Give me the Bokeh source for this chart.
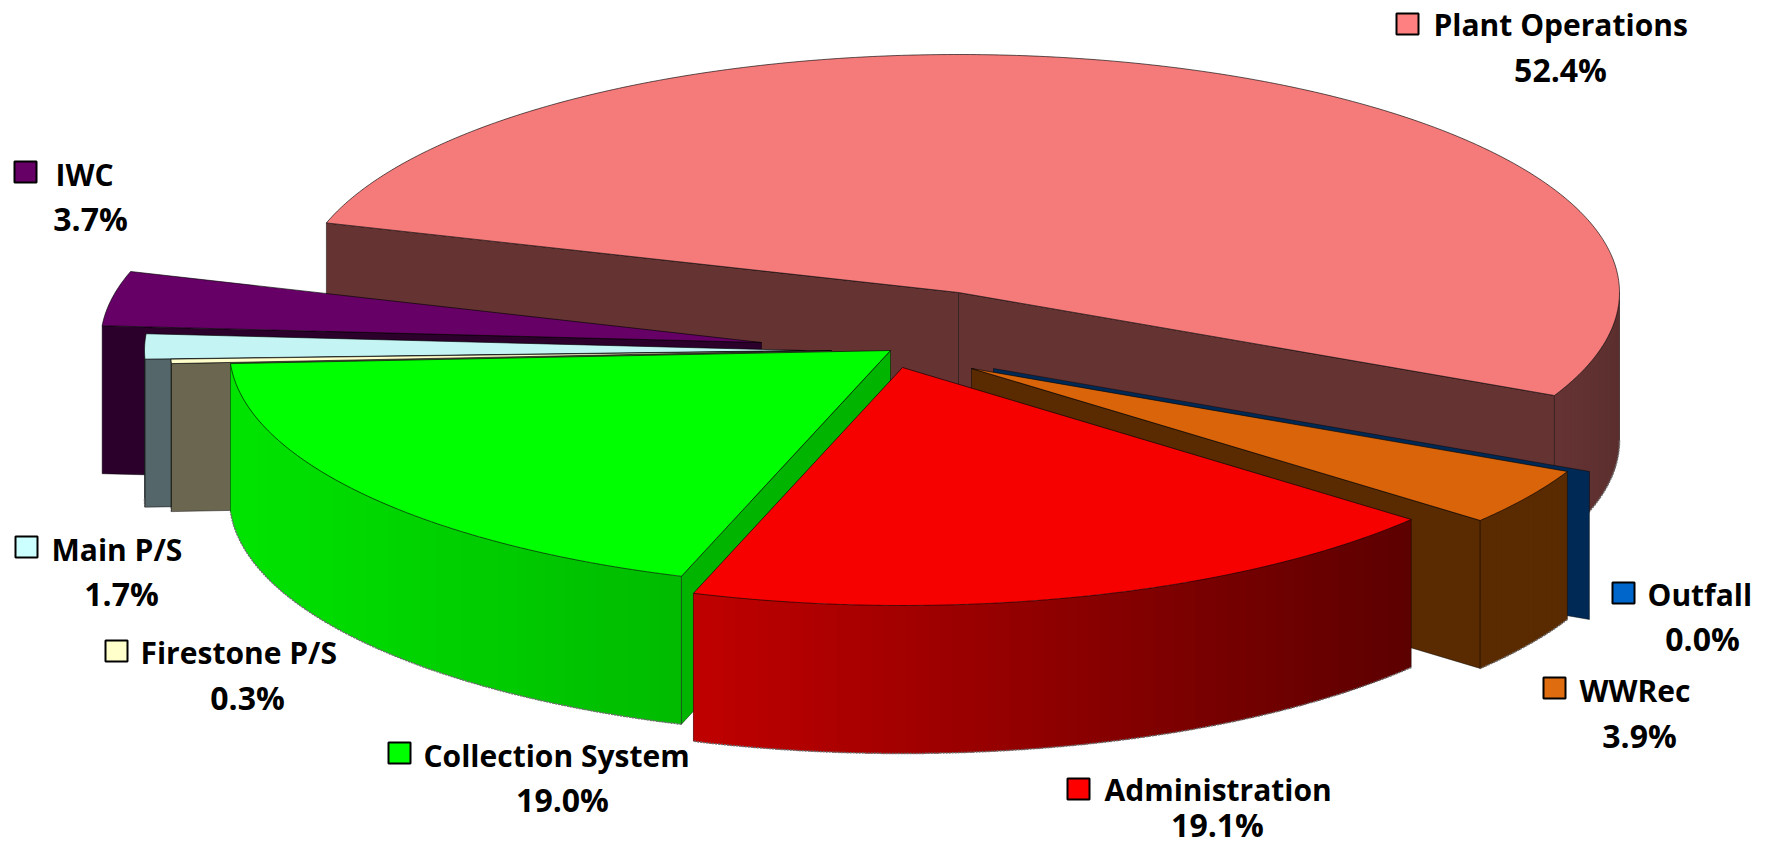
import numpy as np
from bokeh.core.properties import value
from bokeh.embed import file_html
from bokeh.models import Range1d
from bokeh.plotting import figure
from bokeh.resources import INLINE

# Expense shares, clockwise around the pie
categories = ["Plant Operations", "Outfall", "WWRec", "Administration",
              "Collection System", "Firestone P/S", "Main P/S", "IWC"]
shares = [52.4, 0.0, 3.9, 19.1, 19.0, 0.3, 1.7, 3.7]

# Face colours
top_colors = ["#f57b7b", "#002a55", "#d9640a", "#f60000",
              "#00ff00", "#ffffcc", "#c4f4f4", "#660066"]
side_colors = ["#663333", "#002a55", "#5a2a00", "#8a0000",
               "#00b400", "#6b6650", "#55666a", "#2b002b"]
rim_left = ["#663333", "#002a55", "#5a2a00", "#c00000",
            "#00e400", "#6b6650", "#55666a", "#2b002b"]
rim_right = ["#5c2f2f", "#002a55", "#5a2a00", "#5c0000",
             "#00ba00", "#6b6650", "#55666a", "#2b002b"]
swatch_colors = ["#ff8080", "#0066cc", "#e06c10", "#ff0000",
                 "#00ff00", "#ffffcc", "#ccffff", "#660066"]

# Where each exploded slice's tip sits
tip_x = [958, 993, 971, 902, 890, 831, 805, 761]
tip_y = [292, 368, 368, 367, 350, 350, 350, 342]

# Pie projection
RX, RY, DEPTH = 661, 238, 148
START_ANGLE = 163.0

# Back-to-front painting order
paint_order = [0, 7, 6, 5, 1, 2, 4, 3]

# Label layout: swatch left/top, name left/mid-line, percent centre/mid-line
swatch_x = [1396, 1612, 1543, 1067, 388, 105, 15, 14]
swatch_y = [13, 582, 677, 778, 742, 640, 536, 161]
name_x = [1433, 1647, 1579, 1104, 423, 140, 51, 55]
name_y = [24, 594, 690, 789, 755, 652, 549, 174]
pct_x = [1560, 1702, 1639, 1217, 562, 247, 121, 90]
pct_y = [69, 638, 735, 824, 799, 697, 593, 218]
FONT = "Open Sans"
NAME_SIZE = "30px"
PCT_SIZE = "32px"


def rgb(hex_color):
    return np.array([int(hex_color[i:i + 2], 16) for i in (1, 3, 5)], float)


def blend(c0, c1, t):
    m = rgb(c0) * (1 - t) + rgb(c1) * t
    return "#%02x%02x%02x" % tuple(int(round(v)) for v in m)


def rim(cx, cy, a0, a1, step=0.5):
    n = max(2, int(abs(a1 - a0) / step) + 1)
    ang = np.radians(np.linspace(a0, a1, n))
    return cx + RX * np.cos(ang), cy - RY * np.sin(ang)


p = figure(width=1776, height=848, output_backend="svg", toolbar_location=None,
           x_range=Range1d(0, 1776), y_range=Range1d(848, 0),
           min_border=0, outline_line_color=None, background_fill_color="white",
           border_fill_color="white")
p.axis.visible = False
p.grid.visible = False

# Angular extent of each slice
spans = np.array(shares) * 3.6
starts = START_ANGLE - np.concatenate([[0], np.cumsum(spans)[:-1]])
ends = starts - spans

for i in paint_order:
    cx, cy = tip_x[i], tip_y[i]
    a0, a1 = starts[i], ends[i]

    # Radial side walls facing the viewer
    for ang, faces in ((a0, np.cos(np.radians(a0)) < 0),
                       (a1, np.cos(np.radians(a1)) > 0)):
        if faces:
            ex = cx + RX * np.cos(np.radians(ang))
            ey = cy - RY * np.sin(np.radians(ang))
            p.patch([cx, ex, ex, cx], [cy, ey, ey + DEPTH, cy + DEPTH],
                    fill_color=side_colors[i], line_color="#000000",
                    line_alpha=0.45, line_width=1)

    # Outer wall, only the part on the near side, shaded left to right.
    # Each strip runs under the next one so no seams show between them.
    lo, hi = max(a1, -180.0), min(a0, 0.0)
    if hi > lo:
        edges = np.arange(hi, lo, -1.0).tolist() + [lo]
        xs_all = [cx + RX * np.cos(np.radians(e)) for e in edges]
        x_min, x_max = min(xs_all), max(xs_all)
        xs, ys, cols = [], [], []
        for e0, e1 in zip(edges[:-1], edges[1:]):
            rx_, ry_ = rim(cx, cy, e0, max(e1 - 1.5, lo), 0.25)
            xs.append(list(rx_) + list(rx_[::-1]))
            ys.append(list(ry_) + list((ry_ + DEPTH)[::-1]))
            mx = cx + RX * np.cos(np.radians((e0 + e1) / 2))
            t = (mx - x_min) / (x_max - x_min)
            cols.append(blend(rim_left[i], rim_right[i], t))
        p.patches(xs, ys, fill_color=cols, line_color=None)
        bx, by = rim(cx, cy, hi, lo)
        p.line(bx, by + DEPTH, line_color="#6e6e6e", line_width=1.5, line_dash="2 1")
        for e in (hi, lo):
            ex = cx + RX * np.cos(np.radians(e))
            ey = cy - RY * np.sin(np.radians(e))
            p.line([ex, ex], [ey, ey + DEPTH], line_color="#000000",
                   line_alpha=0.4, line_width=1)

    # Top face
    if spans[i] > 0:
        tx, ty = rim(cx, cy, a0, a1)
        p.patch([cx] + list(tx), [cy] + list(ty), fill_color=top_colors[i],
                line_color="#000000", line_alpha=0.7, line_width=0.9)

# Legend swatches and labels
p.quad(left=swatch_x, right=[x + 22 for x in swatch_x],
       top=swatch_y, bottom=[y + 21 for y in swatch_y],
       fill_color=swatch_colors, line_color="#000000", line_width=2)
p.text(name_x, name_y, text=categories, text_font=value(FONT),
       text_font_style="bold", text_font_size=NAME_SIZE, text_color="#000000",
       text_align="left", text_baseline="middle")
p.text(pct_x, pct_y, text=["%.1f%%" % s for s in shares], text_font=value(FONT),
       text_font_style="bold", text_font_size=PCT_SIZE, text_color="#000000",
       text_align="center", text_baseline="middle")

open("out.html", "w").write(file_html(p, INLINE))
